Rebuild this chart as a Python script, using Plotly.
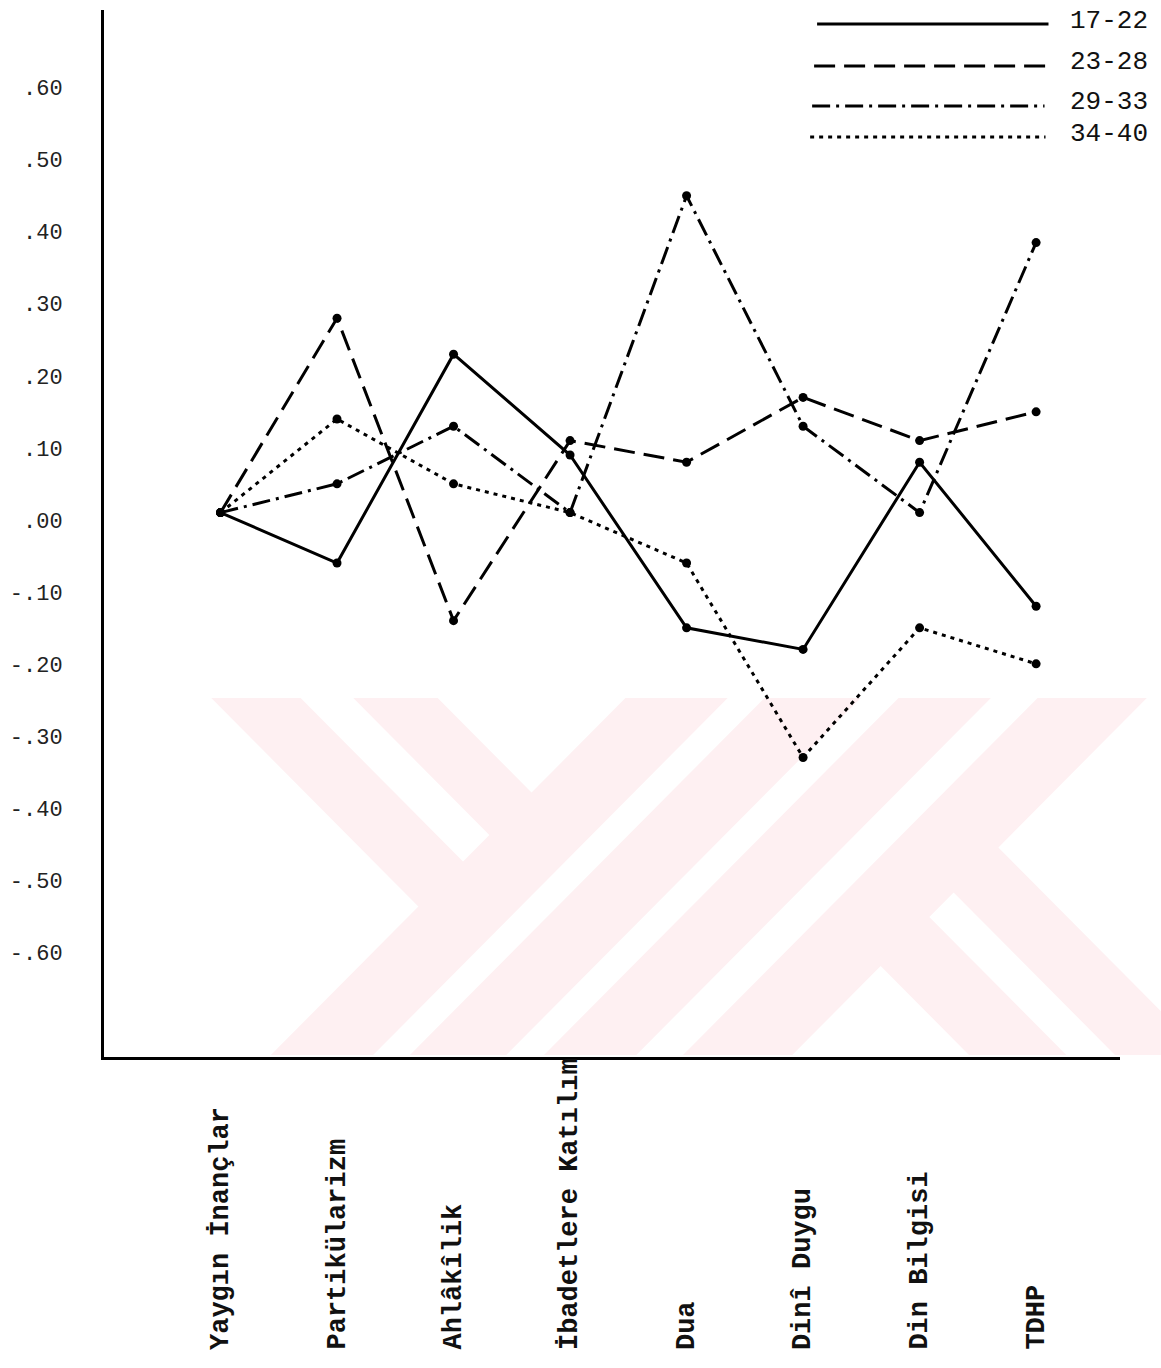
import plotly.graph_objects as go

# ---------------- data ----------------
categories = ["Yaygın İnançlar", "Partikülarizm", "Ahlâkîlik", "İbadetlere Katılım",
              "Dua", "Dinî Duygu", "Din Bilgisi", "TDHP"]
series_names = ["17-22", "23-28", "29-33", "34-40"]
vals_17_22 = [0.01, -0.06, 0.23, 0.09, -0.15, -0.18, 0.08, -0.12]
vals_23_28 = [0.01, 0.28, -0.14, 0.11, 0.08, 0.17, 0.11, 0.15]
vals_29_33 = [0.01, 0.05, 0.13, 0.01, 0.45, 0.13, 0.01, 0.385]
vals_34_40 = [0.01, 0.14, 0.05, 0.01, -0.06, -0.33, -0.15, -0.20]
y_tickvals = [0.6, 0.5, 0.4, 0.3, 0.2, 0.1, 0.0, -0.1, -0.2, -0.3, -0.4, -0.5, -0.6]
y_ticktext = [".60", ".50", ".40", ".30", ".20", ".10", ".00",
              "-.10", "-.20", "-.30", "-.40", "-.50", "-.60"]

# ---------------- layout constants ----------------
W, H = 1161, 1368
ML, MR, MT, MB = 97, 41, 10, 311
PW, PH = W - ML - MR, H - MT - MB

# helpers: convert pixel position to paper coordinates
def px(x):
    return (x - ML) / PW

def py(y):
    return (H - MB - y) / PH

dashes = ["solid", "21px,9px", "18px,6px,3px,6px", "4px,5px"]
all_vals = [vals_17_22, vals_23_28, vals_29_33, vals_34_40]

fig = go.Figure()
for name, vals, dash in zip(series_names, all_vals, dashes):
    fig.add_trace(go.Scatter(
        x=categories, y=vals, name=name, mode="lines+markers",
        line=dict(color="black", width=3, dash=dash),
        marker=dict(color="black", size=9),
        showlegend=False,
    ))

shapes = []

# --- faint watermark (decoration) ---
WM = "#fef0f2"
Y0, Y1 = 698, 1055

def poly(pts):
    s = "M " + " L ".join(f"{px(x):.5f},{py(y):.5f}" for x, y in pts) + " Z"
    return dict(type="path", xref="paper", yref="paper", path=s,
                fillcolor=WM, line=dict(width=0), layer="below")

for c1, c2 in [(1320, 1423), (1460, 1557), (1595, 1688), (1735, 1845)]:
    shapes.append(poly([(c1 - Y0, Y0), (c2 - Y0, Y0), (c2 - Y1, Y1), (c1 - Y1, Y1)]))
for d1, d2 in [(-493, -403), (-350, -265)]:
    ce = 1330
    shapes.append(poly([(d1 + Y0, Y0), (d2 + Y0, Y0),
                        ((ce + d2) / 2, (ce - d2) / 2), ((ce + d1) / 2, (ce - d1) / 2)]))
c0 = 1835
shapes.append(poly([((c0 - 87) / 2, (c0 + 87) / 2), ((c0 + 11) / 2, (c0 - 11) / 2),
                    (11 + Y1, Y1), (-87 + Y1, Y1)]))
shapes.append(poly([((c0 + 60) / 2, (c0 - 60) / 2), ((c0 + 150) / 2, (c0 - 150) / 2),
                    (1161, 1011), (1161, Y1), (60 + Y1, Y1)]))

# --- legend (drawn) ---
leg_y = [24, 66, 106, 137]
leg_text_y = [21, 62, 102, 134]
leg_x = [(815, 1048), (812, 1046), (810, 1044), (808, 1045)]
annotations = []
for name, dash, ly, ty, (x0, x1) in zip(series_names, dashes, leg_y, leg_text_y, leg_x):
    shapes.append(dict(type="line", xref="paper", yref="paper",
                       x0=px(x0), x1=px(x1), y0=py(ly), y1=py(ly),
                       line=dict(color="black", width=3, dash=dash)))
    annotations.append(dict(xref="paper", yref="paper", x=px(1068), y=py(ty),
                            text=name, showarrow=False, xanchor="left", yanchor="middle",
                            font=dict(family="Liberation Mono", size=26, color="#111")))

# --- category labels (rotated, bottom aligned) ---
for cat in categories:
    annotations.append(dict(xref="x", yref="paper", x=cat, y=py(1352),
                            text=f"<b>{cat}</b>", showarrow=False, textangle=-90,
                            xanchor="center", yanchor="bottom",
                            font=dict(family="Liberation Mono", size=27, color="#111")))

fig.update_layout(
    width=W, height=H,
    margin=dict(l=ML, r=MR, t=MT, b=MB, pad=0),
    paper_bgcolor="white", plot_bgcolor="rgba(0,0,0,0)",
    shapes=shapes, annotations=annotations,
    showlegend=False,
)
fig.update_xaxes(range=[-1, 7.72], showgrid=False, zeroline=False,
                 showline=True, linecolor="black", linewidth=3,
                 showticklabels=False, ticks="")
fig.update_yaxes(range=[-0.746, 0.708], showgrid=False, zeroline=False,
                 showline=True, linecolor="black", linewidth=3,
                 tickvals=y_tickvals, ticktext=y_ticktext, ticks="",
                 ticklabelstandoff=34,
                 tickfont=dict(family="Liberation Mono", size=22, color="#222"))

# remove the default page margin so the figure fills the window exactly
fig.write_html(
    "out.html",
    config={"displayModeBar": False},
    post_script="document.body.style.margin='0';document.body.style.overflow='hidden';",
)
